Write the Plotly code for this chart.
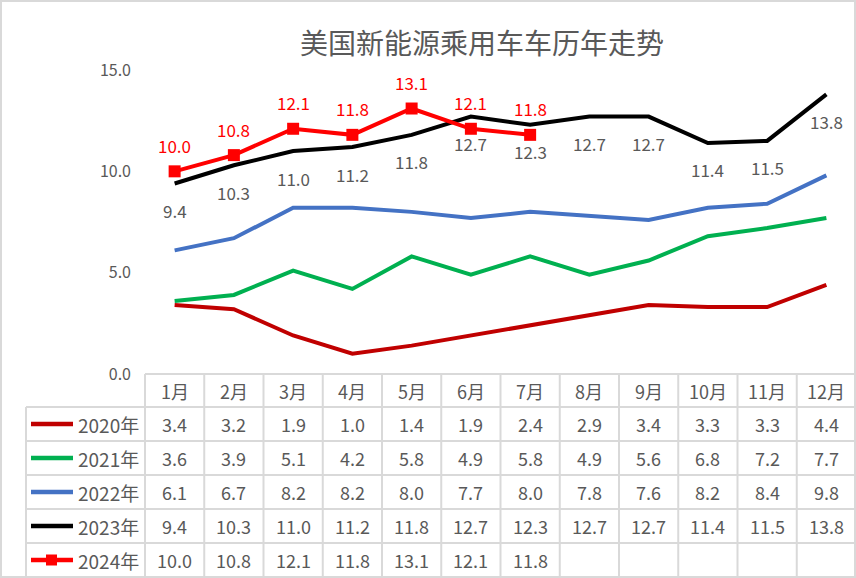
import plotly.graph_objects as go

W, H = 856, 578

months = ["1月", "2月", "3月", "4月", "5月", "6月", "7月", "8月", "9月", "10月", "11月", "12月"]
series_names = ["2020年", "2021年", "2022年", "2023年", "2024年"]
v2020 = [3.4, 3.2, 1.9, 1.0, 1.4, 1.9, 2.4, 2.9, 3.4, 3.3, 3.3, 4.4]
v2021 = [3.6, 3.9, 5.1, 4.2, 5.8, 4.9, 5.8, 4.9, 5.6, 6.8, 7.2, 7.7]
v2022 = [6.1, 6.7, 8.2, 8.2, 8.0, 7.7, 8.0, 7.8, 7.6, 8.2, 8.4, 9.8]
v2023 = [9.4, 10.3, 11.0, 11.2, 11.8, 12.7, 12.3, 12.7, 12.7, 11.4, 11.5, 13.8]
v2024 = [10.0, 10.8, 12.1, 11.8, 13.1, 12.1, 11.8]
colors = ["#C00000", "#00B050", "#4472C4", "#000000", "#FF0000"]
all_values = [v2020, v2021, v2022, v2023, v2024]
y_ticks = [0, 5, 10, 15]

FONT = "Noto Sans CJK SC"
GRAY = "#595959"
GRID = "#D9D9D9"


def px(x):
    return x / W


def py(y):
    return 1 - y / H


# layout geometry (pixels)
table_left = 145
table_right = 856
legend_left = 26
row_tops = [374, 407, 441, 475, 509, 543, 577]
col_w = (table_right - table_left) / 12

fig = go.Figure()

xs = list(range(12))
for name, vals, c in zip(series_names, all_values, colors):
    is24 = name == "2024年"
    fig.add_trace(go.Scatter(
        x=xs[:len(vals)], y=vals, mode="lines+markers" if is24 else "lines",
        line=dict(color=c, width=4),
        marker=dict(symbol="square", size=12, color=c) if is24 else None,
        name=name, showlegend=False, cliponaxis=False,
    ))

annotations = []
# data labels 2023 (below) and 2024 (above)
for i, v in enumerate(v2023):
    annotations.append(dict(x=i, y=v, xref="x", yref="y", text=f"{v:.1f}", showarrow=False,
                            yshift=-27, yanchor="middle", xanchor="center",
                            font=dict(family=FONT, size=17, color=GRAY)))
for i, v in enumerate(v2024):
    annotations.append(dict(x=i, y=v, xref="x", yref="y", text=f"{v:.1f}", showarrow=False,
                            yshift=26, yanchor="middle", xanchor="center",
                            font=dict(family=FONT, size=17, color="#FF0000")))

# table header
for i, m in enumerate(months):
    annotations.append(dict(x=i, y=py((row_tops[0] + row_tops[1]) / 2), xref="x", yref="paper",
                            yanchor="middle", xanchor="center",
                            text=m, showarrow=False, font=dict(family=FONT, size=18, color=GRAY)))
# table rows
for r, (name, vals) in enumerate(zip(series_names, all_values)):
    yc = py((row_tops[r + 1] + row_tops[r + 2]) / 2)
    for i, v in enumerate(vals):
        annotations.append(dict(x=i, y=yc, xref="x", yref="paper", text=f"{v:.1f}", showarrow=False,
                                yanchor="middle", xanchor="center",
                                font=dict(family=FONT, size=18, color=GRAY)))
    annotations.append(dict(x=px(76), y=yc, xref="paper", yref="paper", text=name, showarrow=False,
                            xanchor="left", yanchor="middle",
                            font=dict(family=FONT, size=19, color=GRAY)))

# title
annotations.append(dict(x=px(482), y=py(42), xref="paper", yref="paper", text="美国新能源乘用车车历年走势",
                        showarrow=False, xanchor="center", yanchor="middle",
                        font=dict(family=FONT, size=28, color=GRAY)))

shapes = []
line_style = dict(color=GRID, width=2)
# horizontal lines
shapes.append(dict(type="line", xref="paper", yref="paper", x0=px(table_left), x1=px(table_right),
                   y0=py(row_tops[0]), y1=py(row_tops[0]), line=line_style))
for yt in row_tops[1:]:
    shapes.append(dict(type="line", xref="paper", yref="paper", x0=px(legend_left), x1=px(table_right),
                       y0=py(yt), y1=py(yt), line=line_style))
# vertical lines
shapes.append(dict(type="line", xref="paper", yref="paper", x0=px(legend_left), x1=px(legend_left),
                   y0=py(row_tops[1]), y1=py(row_tops[-1]), line=line_style))
for k in range(13):
    xv = table_left + k * col_w
    shapes.append(dict(type="line", xref="paper", yref="paper", x0=px(xv), x1=px(xv),
                       y0=py(row_tops[0]), y1=py(row_tops[-1]), line=line_style))
# legend swatches
for r, c in enumerate(colors):
    yc = py((row_tops[r + 1] + row_tops[r + 2]) / 2)
    shapes.append(dict(type="line", xref="paper", yref="paper", x0=px(31), x1=px(73), y0=yc, y1=yc,
                       line=dict(color=c, width=4.5)))
    if series_names[r] == "2024年":
        ycp = (row_tops[r + 1] + row_tops[r + 2]) / 2
        shapes.append(dict(type="rect", xref="paper", yref="paper", x0=px(46), x1=px(57),
                           y0=py(ycp - 5.5), y1=py(ycp + 5.5), fillcolor=c, line=dict(width=0)))
# outer border
shapes.append(dict(type="rect", xref="paper", yref="paper", x0=px(1), x1=px(855), y0=py(1), y1=py(577),
                   line=dict(color=GRID, width=2)))

fig.update_layout(
    width=W, height=H,
    margin=dict(l=0, r=0, t=0, b=0),
    paper_bgcolor="white", plot_bgcolor="white",
    xaxis=dict(domain=[px(table_left), 1.0], range=[-0.5, 11.5], showgrid=False, zeroline=False,
               showticklabels=False, showline=False, fixedrange=True),
    yaxis=dict(domain=[py(374), py(70)], range=[0, 15], tickvals=y_ticks, tickformat=".1f",
               showgrid=False, zeroline=False, showline=False, ticks="",
               tickfont=dict(family=FONT, size=16, color=GRAY), ticklabelstandoff=13,
               automargin=False),
    annotations=annotations,
    shapes=shapes,
    showlegend=False,
)

fig.write_html("out.html")
